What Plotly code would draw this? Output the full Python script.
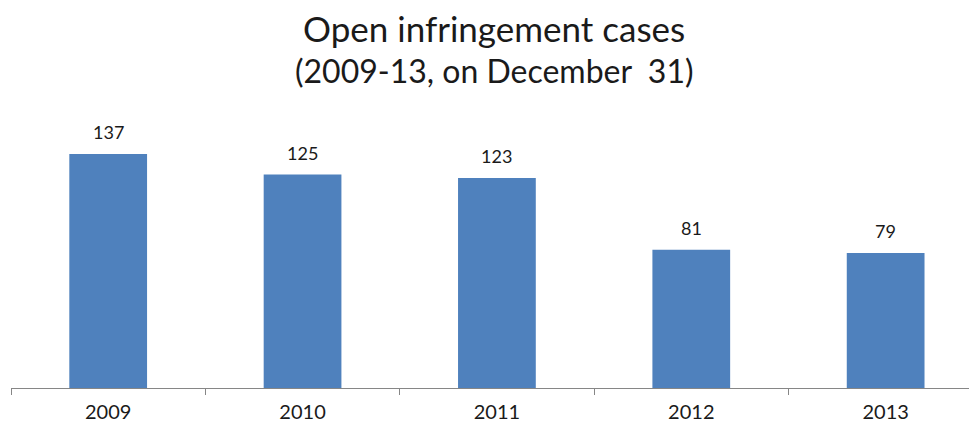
import plotly.graph_objects as go

years = ["2009", "2010", "2011", "2012", "2013"]
cases = [137, 125, 123, 81, 79]

FONT = "Lato, Calibri, sans-serif"
TXT = "#1a1a1a"

fig = go.Figure()
fig.add_trace(go.Bar(
    x=years, y=cases, width=0.4,
    marker=dict(color="#4F81BD", line=dict(width=0)),
    hoverinfo="skip",
))

annotations = []
for i, v in enumerate(cases):
    annotations.append(dict(x=i, y=v, xref="x", yref="y", text=str(v),
                            showarrow=False, yanchor="middle", yshift=22,
                            font=dict(family=FONT, size=18, color=TXT)))
annotations.append(dict(x=0.5, y=1, xref="paper", yref="paper",
                        text="Open infringement cases", showarrow=False,
                        xanchor="center", yanchor="middle", yshift=82,
                        font=dict(family=FONT, size=35, color=TXT)))
annotations.append(dict(x=0.5, y=1, xref="paper", yref="paper",
                        text="(2009-13, on December&nbsp; 31)", showarrow=False,
                        xanchor="center", yanchor="middle", yshift=40,
                        font=dict(family=FONT, size=32, color=TXT)))

# page body has an 8px default margin; compensate in figure size/margins
fig.update_layout(
    width=969, height=424,
    margin=dict(l=3, r=0, t=102, b=44),
    paper_bgcolor="white", plot_bgcolor="white",
    showlegend=False,
    annotations=annotations,
    font=dict(family=FONT, color=TXT),
)
fig.update_xaxes(
    type="category", range=[-0.5, 4.47],
    showline=True, linecolor="#868686", linewidth=1,
    ticks="outside", tickson="boundaries", ticklen=6, tickcolor="#868686",
    tickfont=dict(family=FONT, size=20, color=TXT),
    ticklabelstandoff=6,
    showgrid=False, zeroline=False,
)
fig.update_yaxes(range=[0, 162.8], visible=False, showgrid=False, zeroline=False)

fig.write_html("out.html")
